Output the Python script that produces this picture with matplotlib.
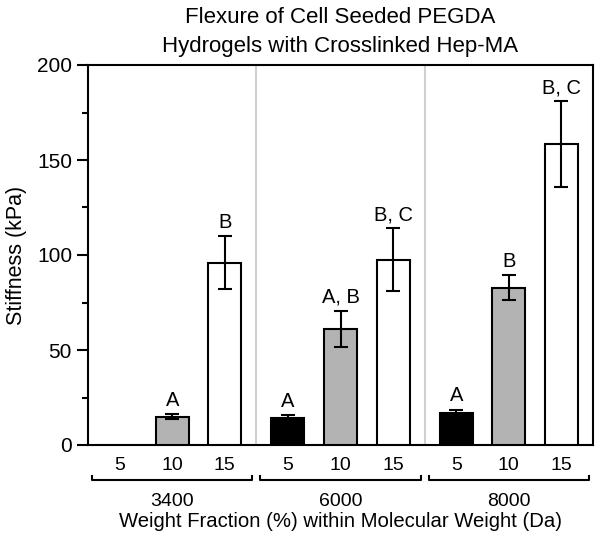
import numpy as np
import matplotlib
matplotlib.use('Agg')
import matplotlib.pyplot as plt
import matplotlib.transforms as mtransforms

plt.rcParams['font.family'] = ['Liberation Sans', 'DejaVu Sans']

mol_weights = ['3400', '6000', '8000']
fractions = ['5', '10', '15']
# stiffness (kPa) per molecular weight, for 5/10/15 % weight fraction (nan = not measured)
stiffness = {
    '3400': [np.nan, 15.0, 95.9],
    '6000': [14.0, 61.2, 97.5],
    '8000': [16.6, 82.8, 158.4],
}
errors = {
    '3400': [np.nan, 1.4, 14.0],
    '6000': [1.6, 9.5, 16.5],
    '8000': [2.0, 6.5, 22.5],
}
letters = {
    '3400': ['', 'A', 'B'],
    '6000': ['A', 'A, B', 'B, C'],
    '8000': ['A', 'B', 'B, C'],
}
colors = ['black', '#b3b3b3', 'white']

fig = plt.figure(figsize=(6.0, 5.43), dpi=100)
ax = fig.add_axes([88 / 600, 1 - 445 / 543, 505 / 600, 380 / 543])

spacing = 0.9375
width = 0.59
tick_pos = []
tick_lab = []
for g, mw in enumerate(mol_weights):
    x = g * 3 + 1.5 + (np.arange(3) - 1) * spacing
    vals = stiffness[mw]
    errs = errors[mw]
    for i in range(3):
        tick_pos.append(x[i])
        tick_lab.append(fractions[i])
        if np.isnan(vals[i]):
            continue
        ax.bar(x[i], vals[i], width=width, color=colors[i], edgecolor='black',
               linewidth=1.5, zorder=3)
        ax.errorbar(x[i], vals[i], yerr=errs[i], fmt='none', ecolor='black',
                    elinewidth=1.5, capsize=5, capthick=1.5, zorder=4)
        ax.annotate(letters[mw][i], (x[i], vals[i] + errs[i]), xytext=(0, 3),
                    textcoords='offset points', ha='center', va='bottom', fontsize=14.5)
    if g > 0:
        ax.axvline(g * 3, color='#d0d0d0', linewidth=1.5, zorder=1)

ax.set_xlim(0, 9)
ax.set_ylim(0, 200)
ax.set_yticks([0, 50, 100, 150, 200])
ax.set_yticks([25, 75, 125, 175], minor=True)
ax.tick_params(axis='y', which='major', length=8, width=1.5, labelsize=15, pad=3.5)
ax.tick_params(axis='y', which='minor', length=4.5, width=1.5)
ax.set_xticks(tick_pos, tick_lab)
ax.tick_params(axis='x', length=0, labelsize=14, pad=9)
for s in ax.spines.values():
    s.set_linewidth(1.5)

# group brackets below the tick labels
trans = mtransforms.blended_transform_factory(ax.transData, ax.transAxes)
y_br = (445 - 480) / 380
y_tk = (445 - 475.5) / 380
for g, mw in enumerate(mol_weights):
    x0 = g * 3 + 0.07
    x1 = g * 3 + 2.93
    ax.plot([x0, x0, x1, x1], [y_tk, y_br, y_br, y_tk], color='black', linewidth=1.5,
            transform=trans, clip_on=False)
    ax.text(g * 3 + 1.5, (445 - 506) / 380, mw, transform=trans, ha='center',
            va='baseline', fontsize=14)

ax.text(0.5, (445 - 527) / 380, 'Weight Fraction (%) within Molecular Weight (Da)',
        transform=ax.transAxes, ha='center', va='baseline', fontsize=14.6)
ax.text((17 - 88) / 505, 0.5, 'Stiffness (kPa)', transform=ax.transAxes,
        rotation=90, ha='center', va='center', fontsize=15.5)

fig.text(340.5 / 600, 1 - 23 / 543, 'Flexure of Cell Seeded PEGDA', ha='center',
         va='baseline', fontsize=16)
fig.text(340.5 / 600, 1 - 52 / 543, 'Hydrogels with Crosslinked Hep-MA', ha='center',
         va='baseline', fontsize=16)

fig.savefig('out.png', dpi=100)
